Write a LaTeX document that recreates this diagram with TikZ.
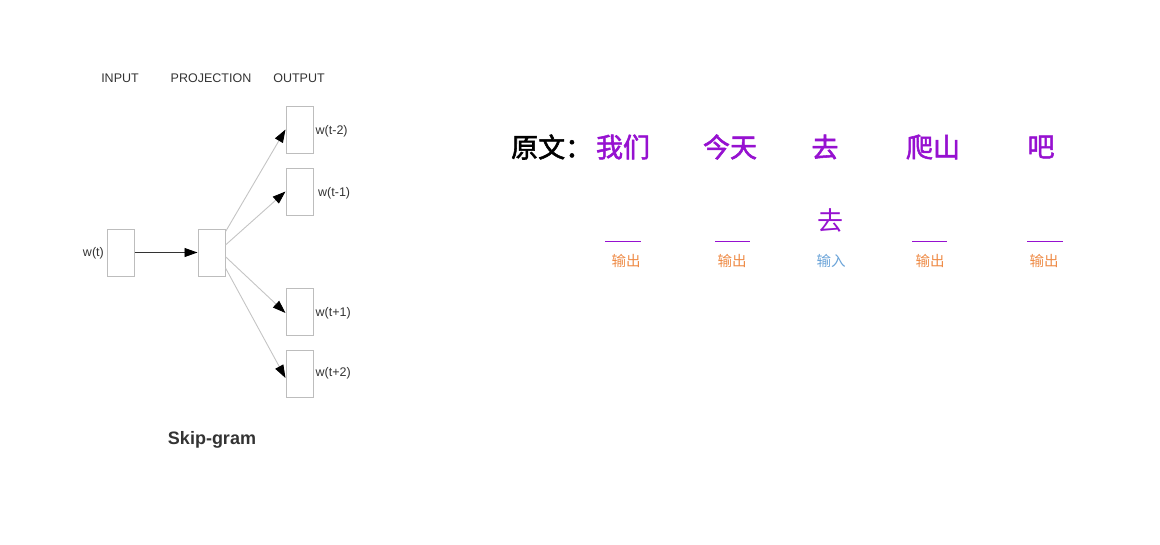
\documentclass[tikz,border=0pt]{standalone}
\usepackage{fontspec}
\setmainfont{Liberation Sans}
\newfontfamily\cjk{Noto Sans CJK SC}
\newfontfamily\cjkb[FakeBold=2]{Noto Sans CJK SC}
\usetikzlibrary{arrows.meta}
\definecolor{boxgray}{HTML}{BDBDBD}
\definecolor{linegray}{HTML}{C4C4C4}
\definecolor{wordpurple}{HTML}{9611D0}
\definecolor{outorange}{HTML}{EE8A45}
\definecolor{inblue}{HTML}{6AA3D8}
\definecolor{txtdark}{HTML}{333333}
\begin{document}
\begin{tikzpicture}[x=1pt,y=-1pt,
  box/.style={draw=boxgray, line width=1pt, minimum width=27pt, minimum height=47pt, inner sep=0pt},
  lab/.style={font=\fontsize{12.5}{14}\selectfont, text=txtdark, inner sep=0pt},
  tip/.style={-{Triangle[length=13pt,width=9pt,color=black]}},
  inarr/.style={tip, draw=black!80, line width=0.9pt},
  outarr/.style={tip, draw=linegray, line width=0.9pt},
  head/.style={font=\cjkb\fontsize{27}{30}\selectfont, inner sep=0pt},
  word/.style={head, text=wordpurple},
  blank/.style={draw=wordpurple, line width=1pt},
  small/.style={font=\cjk\fontsize{14.5}{16}\selectfont, inner sep=0pt}
]
\useasboundingbox (0,0) rectangle (1160,544);
% left: skip-gram
\node[lab] (hin) at (120,78.5) {INPUT};
\node[lab] (hproj) at (211,78.5) {PROJECTION};
\node[lab] (hout) at (299,78.5) {OUTPUT};
\node[box] (in) at (120.5,252.5) {};
\node[box] (proj) at (211.5,252.5) {};
\node[box] (o1) at (299.5,129.5) {};
\node[box] (o2) at (299.5,191.5) {};
\node[box] (o3) at (299.5,311.5) {};
\node[box] (o4) at (299.5,374) {};
\node[lab, anchor=east] (lin) at (104,253.5) {w(t)};
\node[lab, anchor=west] (l1) at (315.5,131.5) {w(t-2)};
\node[lab, anchor=west] (l2) at (318,193.5) {w(t-1)};
\node[lab, anchor=west] (l3) at (315.5,313) {w(t+1)};
\node[lab, anchor=west] (l4) at (315.5,373.5) {w(t+2)};
\draw[inarr] (in.east) -- (proj.west);
\draw[outarr] ([yshift=20.8pt]proj.east) -- (o1.west);
\draw[outarr] ([yshift=7.5pt]proj.east) -- (o2.west);
\draw[outarr] ([yshift=-4.2pt]proj.east) -- ([yshift=-1.5pt]o3.west);
\draw[outarr] ([yshift=-15.5pt]proj.east) -- ([yshift=-4pt]o4.west);
\node[font=\bfseries\fontsize{18}{20}\selectfont, text=txtdark] (cap) at (212,440) {Skip-gram};
% right: sentence
\node[head, anchor=west] (yw) at (511,147) {原文：};
\node[word] (w1) at (623,147) {我们};
\node[word] (w2) at (730,147) {今天};
\node[word] (w3) at (825,147) {去};
\node[word] (w4) at (933,147) {爬山};
\node[word] (w5) at (1041,147) {吧};
\node[font=\cjk\fontsize{26}{28}\selectfont, text=wordpurple, inner sep=0pt] (c) at (830,220) {去};
\coordinate (b1a) at (605,241); \coordinate (b1b) at (641,241);
\coordinate (b2a) at (715,241); \coordinate (b2b) at (750,241);
\coordinate (b4a) at (912,241); \coordinate (b4b) at (947,241);
\coordinate (b5a) at (1027,241); \coordinate (b5b) at (1063,241);
\draw[blank] (b1a) -- (b1b);
\draw[blank] (b2a) -- (b2b);
\draw[blank] (b4a) -- (b4b);
\draw[blank] (b5a) -- (b5b);
\node[small, text=outorange] (t1) at (626,261) {输出};
\node[small, text=outorange] (t2) at (732,261) {输出};
\node[small, text=inblue] (t3) at (831,261) {输入};
\node[small, text=outorange] (t4) at (930,261) {输出};
\node[small, text=outorange] (t5) at (1044,261) {输出};
\end{tikzpicture}
\end{document}
